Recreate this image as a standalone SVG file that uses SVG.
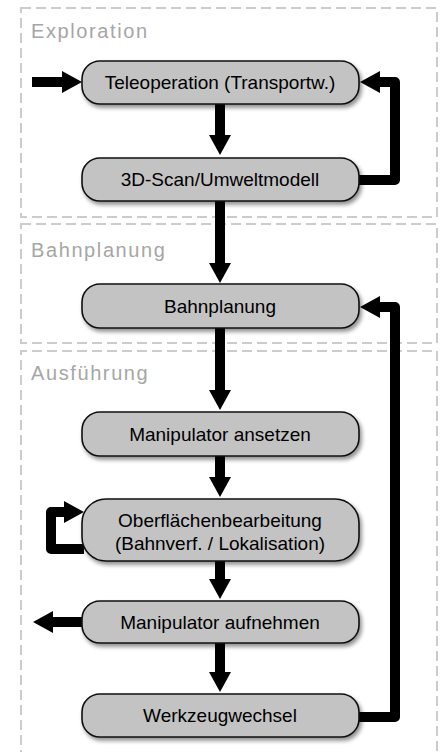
<svg xmlns="http://www.w3.org/2000/svg" width="441" height="752" viewBox="0 0 441 752">
<style>
.grp{fill:none;stroke:#cccccc;stroke-width:2;stroke-dasharray:10 5}
.glabel{font-family:"Liberation Sans",Arial,sans-serif;font-size:20px;letter-spacing:1.6px;fill:#a6a6a6}
.node rect{fill:#c3c3c3;stroke:#111111;stroke-width:1.6;filter:url(#sh)}
.node text{font-family:"Liberation Sans",Arial,sans-serif;font-size:19px;fill:#000;text-anchor:middle}
.c{fill:none;stroke:#000;stroke-width:10;stroke-linejoin:round}
.h{fill:#000}
</style>
<defs>
<filter id="sh" x="-10%" y="-30%" width="130%" height="170%">
<feGaussianBlur in="SourceAlpha" stdDeviation="2"/>
<feOffset dx="2" dy="3" result="b"/>
<feComponentTransfer><feFuncA type="linear" slope="0.45"/></feComponentTransfer>
<feMerge><feMergeNode/><feMergeNode in="SourceGraphic"/></feMerge>
</filter>
<path id="hd" d="M-11,-20 L11,-20 L0,0 Z"/>
</defs>
<rect width="441" height="752" fill="#ffffff"/>
<g id="groups">
<rect class="grp" x="21" y="8" width="416" height="209"/>
<rect class="grp" x="21" y="224" width="416" height="119"/>
<path class="grp" d="M21,760 L21,351 L437,351 L437,760"/>
<text class="glabel" x="31" y="38">Exploration</text>
<text class="glabel" x="31" y="257">Bahnplanung</text>
<text class="glabel" x="31" y="380">Ausführung</text>
</g>
<g id="connectors">
<path class="c" d="M32,82 L62,82"/>
<use class="h" href="#hd" transform="translate(82,82) rotate(-90)"/>
<path class="c" d="M220,104 L220,137"/>
<use class="h" href="#hd" transform="translate(220,155)"/>
<path class="c" d="M359,180 L395,180 L395,82 L379,82"/>
<use class="h" href="#hd" transform="translate(360,82) rotate(90)"/>
<path class="c" d="M220,201 L220,265"/>
<use class="h" href="#hd" transform="translate(220,283)"/>
<path class="c" d="M359,717 L395,717 L395,307 L379,307"/>
<use class="h" href="#hd" transform="translate(360,307) rotate(90)"/>
<path class="c" d="M220,328 L220,392"/>
<use class="h" href="#hd" transform="translate(220,410)"/>
<path class="c" d="M220,456 L220,479"/>
<use class="h" href="#hd" transform="translate(220,497)"/>
<path class="c" d="M84,549 L51,549 L51,512 L66,512"/>
<use class="h" href="#hd" transform="translate(84,512) rotate(-90)"/>
<path class="c" d="M220,561 L220,581"/>
<use class="h" href="#hd" transform="translate(220,599)"/>
<path class="c" d="M82,622 L52,622"/>
<use class="h" href="#hd" transform="translate(33,622) rotate(90)"/>
<path class="c" d="M220,643 L220,674"/>
<use class="h" href="#hd" transform="translate(220,692)"/>
</g>
<g id="n1" class="node"><rect x="82" y="61" width="277" height="43" rx="18"/><text x="220" y="89">Teleoperation (Transportw.)</text></g>
<g id="n2" class="node"><rect x="82" y="158" width="277" height="43" rx="18"/><text x="220" y="186">3D-Scan/Umweltmodell</text></g>
<g id="n3" class="node"><rect x="82" y="284" width="277" height="44" rx="18"/><text x="220" y="313">Bahnplanung</text></g>
<g id="n4" class="node"><rect x="82" y="412" width="277" height="44" rx="18"/><text x="220" y="441">Manipulator ansetzen</text></g>
<g id="n5" class="node"><rect x="82" y="499" width="277" height="62" rx="24"/><text x="220" y="527">Oberflächenbearbeitung</text><text x="220" y="550">(Bahnverf. / Lokalisation)</text></g>
<g id="n6" class="node"><rect x="82" y="601" width="277" height="42" rx="18"/><text x="220" y="629">Manipulator aufnehmen</text></g>
<g id="n7" class="node"><rect x="82" y="694" width="277" height="43" rx="18"/><text x="220" y="722">Werkzeugwechsel</text></g>
</svg>
